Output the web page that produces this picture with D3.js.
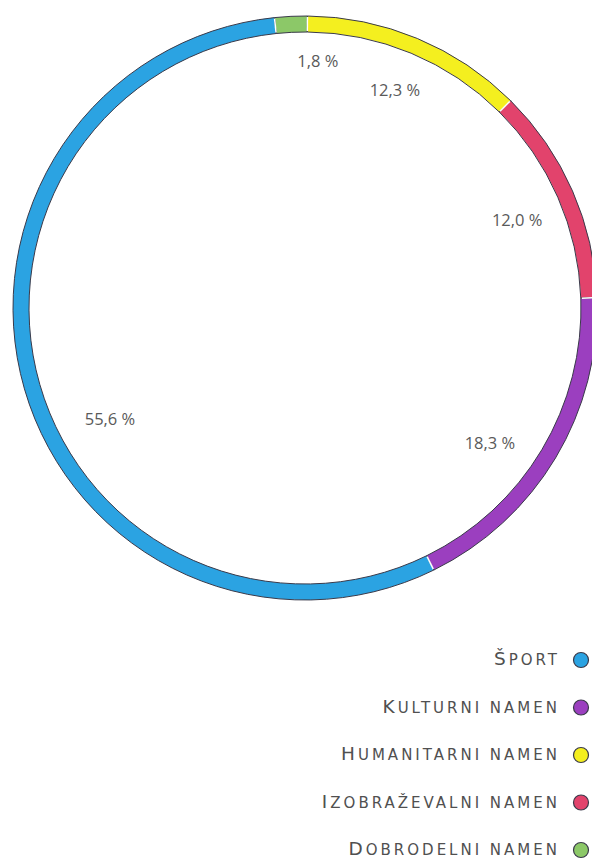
<!DOCTYPE html>
<html><head><meta charset="utf-8">
<script src="https://cdn.jsdelivr.net/npm/d3@7"></script>
<style>body{margin:0;background:#fff}svg{display:block}</style>
</head><body>
<script>
const categories = ["Dobrodelni namen","Humanitarni namen","Izobraževalni namen","Kulturni namen","Šport"];
const values = [1.8, 12.3, 12.0, 18.3, 55.6];
const labels = ["1,8 %","12,3 %","12,0 %","18,3 %","55,6 %"];
const colors = ["#8cc868","#f4ef1f","#e2436c","#9b3fbf","#2ba3e2"];
const legendOrder = ["Šport","Kulturni namen","Humanitarni namen","Izobraževalni namen","Dobrodelni namen"];

const W = 592, H = 861;
const svg = d3.select("body").append("svg").attr("width", W).attr("height", H);
const cx = 305, cy = 308, R = 292, r = 276;
const data = categories.map((c,i)=>({cat:c, value:values[i], label:labels[i], color:colors[i]}));
const off = -6*Math.PI/180;
const pie = d3.pie().value(d=>d.value).sort(null).startAngle(off).endAngle(off+2*Math.PI);
const arcs = pie(data);
const arc = d3.arc().innerRadius(r).outerRadius(R);
const g = svg.append("g").attr("transform", `translate(${cx},${cy})`);
g.selectAll("path.slice").data(arcs).join("path").attr("class","slice")
  .attr("d", arc).attr("fill", d=>d.data.color)
  .attr("stroke", "#3a3a4a").attr("stroke-width", 1);
g.selectAll("line.sep").data(arcs).join("line").attr("class","sep")
  .attr("x1", d=>Math.sin(d.startAngle)*(r+1)).attr("y1", d=>-Math.cos(d.startAngle)*(r+1))
  .attr("x2", d=>Math.sin(d.startAngle)*(R-1)).attr("y2", d=>-Math.cos(d.startAngle)*(R-1))
  .attr("stroke", "#fff").attr("stroke-width", 1.5);

const labelAngle = [3, 22.6, 67.9, 126.5, 240.1]; // degrees clockwise from top
const labelRad = [246, 234, 229, 230, 225];
g.selectAll("text.lab").data(arcs).join("text").attr("class","lab")
  .attr("x", (d,i)=>Math.sin(labelAngle[i]*Math.PI/180)*labelRad[i])
  .attr("y", (d,i)=>-Math.cos(labelAngle[i]*Math.PI/180)*labelRad[i])
  .attr("text-anchor","middle").attr("dominant-baseline","middle")
  .attr("font-family","'Open Sans', sans-serif").attr("font-size",16.5).attr("fill","#5a5a5a")
  .text(d=>d.data.label);

const ly = d3.scalePoint().domain(legendOrder).range([660, 850]);
const leg = svg.append("g");
legendOrder.forEach(c=>{
  const d = data.find(e=>e.cat===c);
  leg.append("circle").attr("cx",581).attr("cy",ly(c)).attr("r",7.5)
    .attr("fill",d.color).attr("stroke","#3a3a4a").attr("stroke-width",1.2);
  const t = leg.append("text").attr("x",560).attr("y",ly(c)+5).attr("text-anchor","end")
    .attr("font-family","'DejaVu Sans', sans-serif")
    .attr("letter-spacing","3").attr("fill","#505050");
  t.append("tspan").attr("font-size",18.5).text(c.charAt(0));
  t.append("tspan").attr("font-size",15).text(c.slice(1).toUpperCase());
});
</script>
</body></html>
